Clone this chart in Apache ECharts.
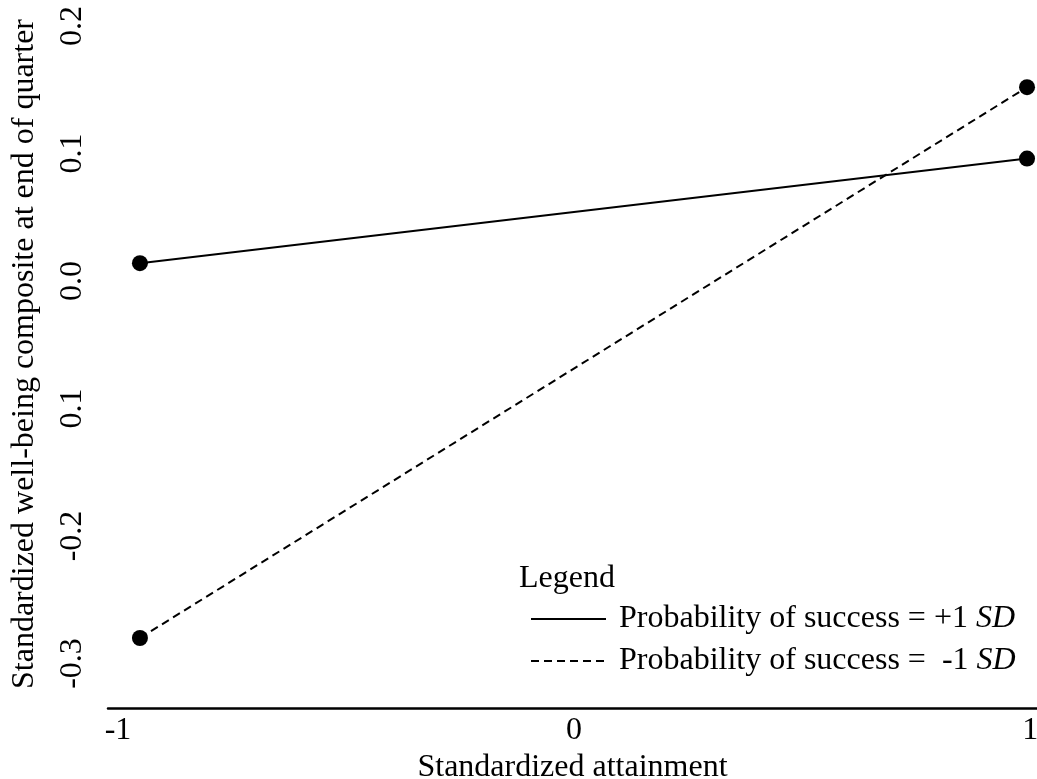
<!DOCTYPE html>
<html>
<head>
<meta charset="utf-8">
<script src="https://cdn.jsdelivr.net/npm/echarts@6/dist/echarts.min.js"></script>
<style>
  html, body { margin: 0; padding: 0; background: #fff; }
  #chart { width: 1037px; height: 779px; }
</style>
</head>
<body>
<div id="chart"></div>
<script>
// Attainment levels (x) and predicted well-being at each level
const attainment = [-1, 1];
const highSuccess = [0.014, 0.096];   // probability of success = +1 SD
const lowSuccess = [-0.280, 0.152];   // probability of success = -1 SD

const xTicks = [-1, 0, 1];
const yTicks = [-0.3, -0.2, -0.1, 0.0, 0.1, 0.2];
const yTickText = ['-0.3', '-0.2', '0.1', '0.0', '0.1', '0.2'];

const seriesNames = ['Probability of success = +1 SD', 'Probability of success = -1 SD'];
const legendText = {
  'Probability of success = +1 SD': '{n|Probability of success = +1 }{i|SD}',
  'Probability of success = -1 SD': '{n|Probability of success =  -1 }{i|SD}'
};

const FONT = 'Liberation Serif';
const FS = 32;

const chart = echarts.init(document.getElementById('chart'));

function pairs(xs, ys) { return xs.map((x, i) => [x, ys[i]]); }

chart.setOption({
  animation: false,
  backgroundColor: '#fff',
  textStyle: { fontFamily: FONT, color: '#000' },
  title: {
    text: 'Legend',
    left: 519, top: 563,
    padding: 0,
    textStyle: { fontFamily: FONT, fontSize: FS, fontWeight: 'normal', color: '#000' }
  },
  legend: {
    data: seriesNames,
    orient: 'vertical',
    left: 530, top: 603,
    padding: 0,
    itemWidth: 75, itemHeight: 14, itemGap: 10,
    itemStyle: { opacity: 0 },
    formatter: name => legendText[name],
    textStyle: {
      fontFamily: FONT, fontSize: FS, color: '#000', lineHeight: 32,
      rich: {
        n: { fontFamily: FONT, fontSize: FS, color: '#000', padding: [0, 0, 0, 8] },
        i: { fontFamily: FONT, fontSize: FS, color: '#000', fontStyle: 'italic' }
      }
    }
  },
  grid: { left: 108, right: 0, top: 0, bottom: 71, containLabel: false, outerBoundsMode: 'none' },
  xAxis: [
    {
      type: 'value',
      min: -1.022, max: 1.015,
      axisLine: { show: true, onZero: false, lineStyle: { color: '#000', width: 2.5 } },
      axisTick: { show: false },
      splitLine: { show: false },
      axisLabel: {
        customValues: xTicks,
        margin: 7,
        fontFamily: FONT, fontSize: FS, color: '#000',
        formatter: v => String(v)
      },
      name: 'Standardized attainment',
      nameLocation: 'middle',
      nameGap: 43,
      nameTextStyle: { fontFamily: FONT, fontSize: FS, color: '#000' }
    },
    {
      type: 'value',
      min: -1.072, max: 1.0225,
      show: false
    }
  ],
  yAxis: {
    type: 'value',
    min: -0.3349, max: 0.2204,
    axisLine: { show: false },
    axisTick: { show: false },
    splitLine: { show: false },
    axisLabel: {
      customValues: yTicks,
      rotate: 90,
      margin: 19,
      fontFamily: FONT, fontSize: FS, color: '#000',
      formatter: v => yTickText[yTicks.findIndex(t => Math.abs(t - v) < 1e-9)]
    },
    name: 'Standardized well-being composite at end of quarter',
    nameLocation: 'middle',
    nameRotate: 90,
    nameGap: 67,
    nameTextStyle: { fontFamily: FONT, fontSize: FS, color: '#000' }
  },
  series: [
    {
      name: seriesNames[0],
      type: 'line',
      xAxisIndex: 1,
      data: pairs(attainment, highSuccess),
      symbol: 'circle', symbolSize: 16,
      itemStyle: { color: '#000' },
      lineStyle: { color: '#000', width: 2, type: 'solid' }
    },
    {
      name: seriesNames[1],
      type: 'line',
      xAxisIndex: 1,
      data: pairs(attainment, lowSuccess),
      symbol: 'circle', symbolSize: 16,
      itemStyle: { color: '#000' },
      lineStyle: { color: '#000', width: 2, type: [8, 5] }
    }
  ]
});
</script>
</body>
</html>
